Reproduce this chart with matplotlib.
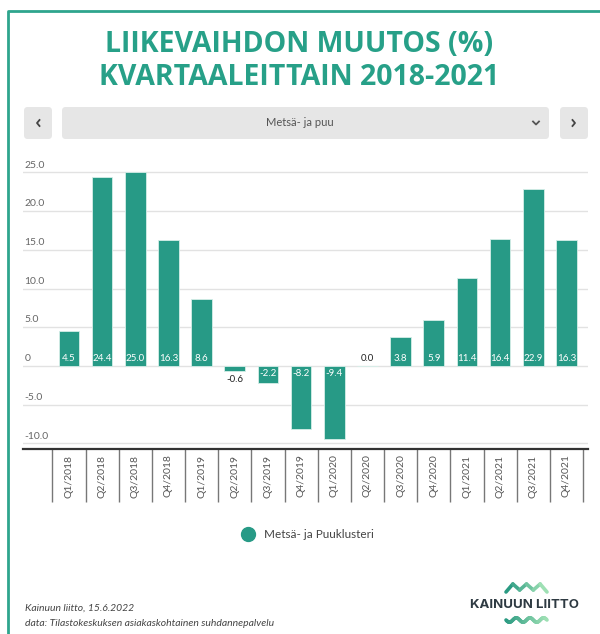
import matplotlib
matplotlib.use("Agg")
import numpy as np
import matplotlib.pyplot as plt
from matplotlib.patches import FancyBboxPatch
from matplotlib.lines import Line2D
from matplotlib.collections import LineCollection

# data
quarters = ["Q1/2018", "Q2/2018", "Q3/2018", "Q4/2018",
            "Q1/2019", "Q2/2019", "Q3/2019", "Q4/2019",
            "Q1/2020", "Q2/2020", "Q3/2020", "Q4/2020",
            "Q1/2021", "Q2/2021", "Q3/2021", "Q4/2021"]
values = [4.5, 24.4, 25.0, 16.3, 8.6, -0.6, -2.2, -8.2,
          -9.4, 0.0, 3.8, 5.9, 11.4, 16.4, 22.9, 16.3]
yticks = [25, 20, 15, 10, 5, 0, -5, -10]
ytick_labels = ["25.0", "20.0", "15.0", "10.0", "5.0", "0", "-5.0", "-10.0"]
series_name = "Metsä- ja Puuklusteri"
dropdown_text = "Metsä- ja puu"
title = "LIIKEVAIHDON MUUTOS (%)\nKVARTAALEITTAIN 2018-2021"
footer = ["Kainuun liitto, 15.6.2022",
          "data: Tilastokeskuksen asiakaskohtainen suhdannepalvelu"]

TEAL = "#279a86"
TITLE_C = "#27a088"
W, H = 600, 634

plt.rcParams['font.family'] = ['Lato', 'DejaVu Sans']

fig = plt.figure(figsize=(W / 100, H / 100), dpi=100)


def fx(px):
    return px / W


def fy(py):
    # py measured from the top of the picture
    return 1 - py / H


# frame (cut off at right and bottom like the screenshot)
fig.add_artist(Line2D([fx(8), fx(8), 1], [0, fy(11), fy(11)],
                      color="#2ea58d", lw=2, transform=fig.transFigure))

# title
fig.text(fx(299), fy(61), title, ha="center", va="center",
         fontsize=20.5, fontweight="bold", color=TITLE_C,
         linespacing=1.2, family=["Open Sans", "DejaVu Sans"])

# selector buttons
for x0, x1 in [(24, 52), (62, 549), (560, 588)]:
    box = FancyBboxPatch((fx(x0), fy(139)), fx(x1 - x0), (139 - 107) / H,
                         boxstyle="round,pad=0,rounding_size=0.006",
                         transform=fig.transFigure, fc="#e6e6e6", ec="none")
    fig.add_artist(box)
fig.add_artist(Line2D([fx(39.5), fx(37), fx(39.5)], [fy(120), fy(123), fy(126)],
                      color="#444444", lw=1.3, transform=fig.transFigure))
fig.add_artist(Line2D([fx(572.5), fx(575), fx(572.5)], [fy(120), fy(123), fy(126)],
                      color="#444444", lw=1.3, transform=fig.transFigure))
fig.text(fx(300), fy(123), dropdown_text, ha="center", va="center",
         fontsize=8, color="#555555")
fig.add_artist(Line2D([fx(533), fx(536), fx(539)], [fy(121.5), fy(124.5), fy(121.5)],
                      color="#555555", lw=1.3, transform=fig.transFigure))

# chart area
ax = fig.add_axes([fx(23), 1 - 449 / H, fx(588 - 23), (449 - 160) / H])
x = np.arange(len(quarters))
ax.bar(x, values, width=0.62, color=TEAL, edgecolor="#d5eee8",
       linewidth=0.6, zorder=3)
ax.set_xlim(-1.385, len(quarters) - 0.35)
ax.set_ylim(-10.72, 26.6)

for s in ["top", "right", "left"]:
    ax.spines[s].set_visible(False)
ax.spines["bottom"].set_color("#333333")
ax.spines["bottom"].set_linewidth(1.6)

ax.set_yticks(yticks)
ax.tick_params(axis="y", length=0, labelleft=False)
ax.grid(axis="y", color="#e2e2e2", lw=1, zorder=0)
for t, lab in zip(yticks, ytick_labels):
    ax.annotate(lab, (0, t), xycoords=("axes fraction", "data"),
                xytext=(1, 2), textcoords="offset points",
                ha="left", va="bottom", fontsize=7.5, color="#666666")

ax.set_xticks(x)
ax.set_xticklabels(quarters, rotation=90, fontsize=7.5, color="#555555")
ax.tick_params(axis="x", which="major", length=0, pad=4)
ax.set_xticks(np.arange(-0.5, len(quarters)), minor=True)
ax.tick_params(axis="x", which="minor", length=38, width=1, color="#777777")

# data labels
for xi, v in zip(x, values):
    if abs(v) < 1:
        base = min(v, 0) if v < 0 else 0
        off = -3 if v < 0 else 2
        ax.annotate(f"{v:.1f}", (xi, base), xytext=(0, off),
                    textcoords="offset points", ha="center",
                    va="top" if v < 0 else "bottom",
                    fontsize=7, color="#222222", zorder=4)
    else:
        off = 2 if v > 0 else -2
        ax.annotate(f"{v:.1f}", (xi, 0), xytext=(0, off),
                    textcoords="offset points", ha="center",
                    va="bottom" if v > 0 else "top",
                    fontsize=7, color="white", zorder=4)

# legend
handle = Line2D([], [], marker="o", color="none", markerfacecolor=TEAL,
                markeredgecolor=TEAL, markersize=10)
fig.legend([handle], [series_name], loc="center", bbox_to_anchor=(fx(305), fy(535)),
           frameon=False, fontsize=8.5, handletextpad=0.4,
           labelcolor="#444444")

# footer
fig.text(fx(25), fy(608), footer[0], ha="left", va="center", fontsize=7.5,
         style="italic", color="#444444")
fig.text(fx(25), fy(623), footer[1], ha="left", va="center", fontsize=7.5,
         style="italic", color="#444444")

# logo
fig.text(fx(525), fy(605), "KAINUUN LIITTO", ha="center", va="center",
         fontsize=9.5, fontweight="bold", color="#2e3a42",
         family=["Inter", "DejaVu Sans"])
zx = np.linspace(506, 547, 7)
zy = np.array([592, 584, 590, 584, 590, 584, 592])
wx = np.linspace(506, 547, 60)
wy = 620 + 2.2 * np.sin((wx - 506) / 41 * 3 * 2 * np.pi)
cmap = matplotlib.colors.LinearSegmentedColormap.from_list("w", ["#2a9a82", "#9ee0b4"])
for px, py in [(zx, zy), (wx, wy)]:
    pts = np.column_stack([fx(px), fy(py)]).reshape(-1, 1, 2)
    segs = np.concatenate([pts[:-1], pts[1:]], axis=1)
    lc = LineCollection(segs, colors=cmap(np.linspace(0, 1, len(segs))),
                        linewidths=2.6, transform=fig.transFigure,
                        capstyle="round", joinstyle="round")
    fig.add_artist(lc)

fig.savefig("out.png", dpi=100)
